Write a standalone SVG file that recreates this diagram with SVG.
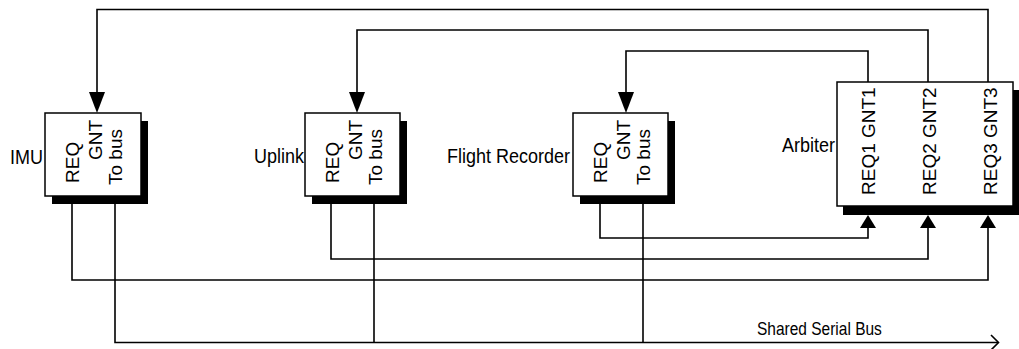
<svg xmlns="http://www.w3.org/2000/svg" width="1019" height="349" viewBox="0 0 1019 349">
  <style>
    text { font-family: "Liberation Sans", Arial, sans-serif; fill: #000; }
    .lbl { font-size: 18px; text-anchor: end; }
    .pin { font-size: 19px; }
    .box { fill: #fff; stroke: #000; stroke-width: 1.5; }
    .shadow { fill: #000; }
    .wire { fill: none; stroke: #000; stroke-width: 1.6; }
    .head { fill: #000; }
    .bus { font-size: 15.5px; }
  </style>
  <rect width="1019" height="349" fill="#fff"/>

  <g id="connectors">
    <!-- grant lines -->
    <path class="wire" d="M868,82 V51 H626 V95"/>
    <polygon class="head" points="618,92 634,92 626,113"/>
    <path class="wire" d="M928,82 V30 H357 V95"/>
    <polygon class="head" points="349,92 365,92 357,113"/>
    <path class="wire" d="M988,82 V9.5 H97 V95"/>
    <polygon class="head" points="89,92 105,92 97,113"/>
    <!-- request lines -->
    <path class="wire" d="M600,204 V238 H868 V226"/>
    <polygon class="head" points="860,228 876,228 868,215"/>
    <path class="wire" d="M331,204 V259 H928 V226"/>
    <polygon class="head" points="920,228 936,228 928,215"/>
    <path class="wire" d="M72,204 V280 H988 V226"/>
    <polygon class="head" points="980,228 996,228 988,215"/>
    <!-- bus -->
    <path class="wire" d="M115,204 V342.5 H998"/>
    <path class="wire" d="M374,204 V342.5"/>
    <path class="wire" d="M643,204 V342.5"/>
    <path class="wire" d="M991,335 L998.5,342.5 L991,350"/>
    <text class="bus" transform="translate(757,335) scale(1,1.15)">Shared Serial Bus</text>
  </g>

  <g id="imu">
    <rect class="shadow" x="52" y="121" width="96" height="83"/>
    <rect class="box" x="45" y="113" width="96" height="83"/>
    <text class="lbl" transform="translate(43,163.5) scale(1,1.12)">IMU</text>
    <text class="pin" transform="translate(79,183) rotate(-90)">REQ</text>
    <text class="pin" transform="translate(102,160) rotate(-90)">GNT</text>
    <text class="pin" transform="translate(122,185) rotate(-90)">To bus</text>
  </g>

  <g id="uplink">
    <rect class="shadow" x="312" y="121" width="95" height="83"/>
    <rect class="box" x="305" y="113" width="95" height="83"/>
    <text class="lbl" transform="translate(304,163) scale(1,1.12)">Uplink</text>
    <text class="pin" transform="translate(339,183) rotate(-90)">REQ</text>
    <text class="pin" transform="translate(362,160) rotate(-90)">GNT</text>
    <text class="pin" transform="translate(382,185) rotate(-90)">To bus</text>
  </g>

  <g id="flight-recorder">
    <rect class="shadow" x="580" y="121" width="95" height="83"/>
    <rect class="box" x="573" y="113" width="95" height="83"/>
    <text class="lbl" transform="translate(570,163) scale(1,1.12)">Flight Recorder</text>
    <text class="pin" transform="translate(607,183) rotate(-90)">REQ</text>
    <text class="pin" transform="translate(630,160) rotate(-90)">GNT</text>
    <text class="pin" transform="translate(650,185) rotate(-90)">To bus</text>
  </g>

  <g id="arbiter">
    <rect class="shadow" x="843" y="90" width="180" height="125"/>
    <rect class="box" x="837" y="82" width="176" height="124"/>
    <text class="lbl" transform="translate(835,152) scale(1,1.12)">Arbiter</text>
    <text class="pin" transform="translate(875,195) rotate(-90)">REQ1 GNT1</text>
    <text class="pin" transform="translate(936,195) rotate(-90)">REQ2 GNT2</text>
    <text class="pin" transform="translate(997,195) rotate(-90)">REQ3 GNT3</text>
  </g>
</svg>
